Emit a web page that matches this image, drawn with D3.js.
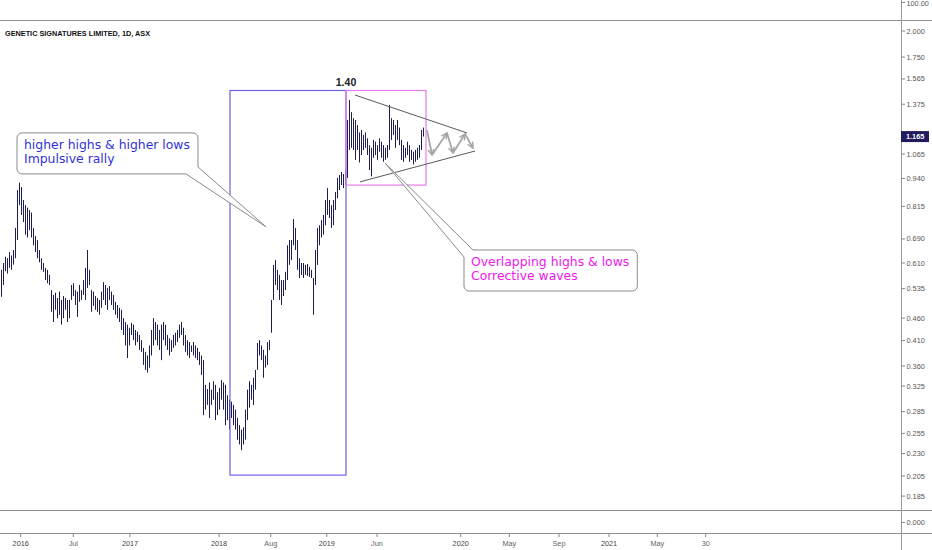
<!DOCTYPE html>
<html><head><meta charset="utf-8">
<script src="https://cdn.jsdelivr.net/npm/d3@7"></script>
<style>html,body{margin:0;padding:0;background:#fff;}svg{display:block}</style>
</head><body><svg id="c" width="932" height="550"></svg>
<script>
const title = "GENETIC SIGNATURES LIMITED, 1D, ASX";
const barHigh = [
0.589,0.61,0.63,0.625,0.645,0.634,0.652,0.73,0.886,0.92,
0.90,0.842,0.82,0.81,0.80,0.79,0.73,0.70,0.686,0.652,
0.625,0.61,0.595,0.589,0.574,0.531,0.518,0.524,0.51,0.527,
0.505,0.515,0.51,0.505,0.505,0.545,0.55,0.531,0.527,0.545,
0.531,0.559,0.595,0.652,0.589,0.531,0.527,0.515,0.51,0.505,
0.527,0.553,0.545,0.537,0.542,0.527,0.518,0.50,0.492,0.485,
0.48,0.46,0.451,0.445,0.438,0.449,0.445,0.433,0.429,0.422,
0.411,0.395,0.387,0.38,0.40,0.433,0.46,0.451,0.445,0.433,
0.445,0.451,0.445,0.422,0.415,0.411,0.422,0.427,0.433,0.445,
0.451,0.438,0.422,0.411,0.407,0.40,0.407,0.40,0.395,0.387,
0.38,0.371,0.327,0.32,0.331,0.319,0.333,0.327,0.315,0.322,
0.335,0.331,0.327,0.31,0.303,0.30,0.295,0.288,0.276,0.266,
0.26,0.263,0.288,0.319,0.333,0.327,0.339,0.353,0.405,0.411,
0.40,0.391,0.38,0.407,0.411,0.505,0.604,0.619,0.589,0.574,
0.559,0.559,0.583,0.668,0.686,0.686,0.764,0.73,0.686,0.625,
0.61,0.61,0.604,0.607,0.598,0.589,0.565,0.652,0.73,0.74,
0.76,0.78,0.842,0.895,0.842,0.82,0.842,0.877,0.943,0.957,
0.972,0.962,0.982,1.268,1.405,1.32,1.28,1.268,1.236,1.19,
1.205,1.175,1.19,1.155,1.115,1.10,1.145,1.135,1.115,1.155,
1.135,1.115,1.10,1.115,1.37,1.28,1.268,1.236,1.268,1.22,
1.145,1.115,1.10,1.135,1.115,1.088,1.078,1.088,1.10,1.115,
1.205,1.22];
const barLow = [
0.513,0.545,0.585,0.578,0.595,0.589,0.605,0.625,0.686,0.82,
0.78,0.752,0.705,0.695,0.722,0.695,0.668,0.645,0.625,0.612,
0.589,0.583,0.559,0.55,0.545,0.475,0.451,0.48,0.46,0.468,
0.445,0.46,0.48,0.451,0.46,0.505,0.515,0.492,0.463,0.50,
0.505,0.518,0.505,0.537,0.545,0.475,0.49,0.48,0.475,0.468,
0.485,0.505,0.492,0.48,0.505,0.492,0.48,0.468,0.46,0.451,
0.433,0.422,0.40,0.375,0.40,0.422,0.411,0.40,0.407,0.391,
0.387,0.362,0.353,0.348,0.357,0.38,0.40,0.411,0.40,0.391,
0.371,0.411,0.40,0.391,0.38,0.387,0.395,0.40,0.407,0.416,
0.422,0.40,0.387,0.38,0.375,0.387,0.38,0.375,0.371,0.362,
0.344,0.28,0.288,0.295,0.276,0.295,0.303,0.273,0.28,0.288,
0.303,0.288,0.266,0.273,0.26,0.276,0.266,0.26,0.247,0.241,
0.234,0.241,0.247,0.273,0.291,0.303,0.295,0.319,0.353,0.38,
0.371,0.339,0.357,0.362,0.391,0.427,0.505,0.545,0.531,0.505,
0.492,0.515,0.531,0.559,0.604,0.619,0.668,0.652,0.589,0.565,
0.574,0.565,0.574,0.571,0.568,0.565,0.468,0.545,0.604,0.668,
0.695,0.705,0.74,0.78,0.768,0.73,0.74,0.80,0.85,0.886,
0.909,0.895,0.909,0.943,1.088,1.10,1.088,1.034,1.088,1.02,
1.06,1.088,1.10,1.06,0.982,0.95,1.045,1.06,1.034,1.078,
1.045,1.024,1.034,1.045,1.088,1.145,1.175,1.10,1.145,1.115,
1.034,1.024,1.045,1.06,1.024,1.034,1.01,1.024,1.034,1.045,
1.088,1.165];
const lastPrice = 1.165;
const peakLabel = "1.40";
const peakPrice = 1.40;
const yTickValues = [2.000,1.750,1.565,1.375,1.065,0.940,0.815,0.690,0.610,0.535,0.460,0.410,0.360,0.325,0.285,0.255,0.230,0.205,0.185];
const xTickIndex = [9.85,36.15,64.5,109,134.9,162.9,188,229.85,254.15,279,304,328.15,352.35];
const xTickLabels = ["2016","Jul","2017","2018","Aug","2019","Jun","2020","May","Sep","2021","May","30"];
const impulseBox = [114.5, 172.5, 1.475, 0.206];
const correctionBox = [172.5, 212.5, 1.475, 0.909];
const upperTrend = [[177,1.441],[233,1.187]];
const lowerTrend = [[179.5,0.924],[237,1.082]];
const zigzag = [[213,1.205],[215.5,1.060],[223,1.187],[226,1.071],[232,1.181],[236,1.099]];
const callout1Lines = ["higher highs & higher lows","Impulsive rally"];
const callout2Lines = ["Overlapping highs & lows","Corrective waves"];

const svg = d3.select("#c");
const W = 932, H = 550, axisX = 901;
const xS = d3.scaleLinear().domain([0,450]).range([1,axisX]);
const yS = d3.scaleLog().domain([2.1158,0.1723]).range([20,510]);

svg.append("rect").attr("width",W).attr("height",H).attr("fill","#fff");

// pane separators
const gridC = "#8e8e8e";
[20.5,510.5,533.5].forEach(y=>svg.append("line").attr("x1",0).attr("x2",W).attr("y1",y).attr("y2",y).attr("stroke",gridC).attr("stroke-width",1.2));
svg.append("line").attr("x1",axisX+0.5).attr("x2",axisX+0.5).attr("y1",0).attr("y2",H).attr("stroke","#9a9a9a").attr("stroke-width",1);

const axFont = "'Liberation Sans', Arial, sans-serif";
// y ticks
const yAx = svg.append("g");
yTickValues.forEach(v=>{
  const y = yS(v);
  yAx.append("line").attr("x1",axisX).attr("x2",axisX+4).attr("y1",y).attr("y2",y).attr("stroke","#888");
  yAx.append("text").attr("x",axisX+5.5).attr("y",y).attr("dy","0.35em").attr("font-family",axFont).attr("font-size",7.3).attr("fill","#555").text(d3.format(".3f")(v));
});
// top pane label & lower pane label
yAx.append("line").attr("x1",axisX).attr("x2",axisX+4).attr("y1",2.5).attr("y2",2.5).attr("stroke","#888");
yAx.append("text").attr("x",axisX+5.5).attr("y",6).attr("font-family",axFont).attr("font-size",7.3).attr("fill","#555").text("100.00");
yAx.append("line").attr("x1",axisX).attr("x2",axisX+4).attr("y1",522.5).attr("y2",522.5).attr("stroke","#888");
yAx.append("text").attr("x",axisX+5.5).attr("y",522.5).attr("dy","0.35em").attr("font-family",axFont).attr("font-size",7.3).attr("fill","#555").text("0.000");

// x ticks
xTickIndex.forEach((t,i)=>{
  const x = xS(t);
  const isYear = /^\d{4}$/.test(xTickLabels[i]);
  svg.append("line").attr("x1",x).attr("x2",x).attr("y1",533.5).attr("y2",537).attr("stroke","#888");
  svg.append("text").attr("x",x).attr("y",546).attr("text-anchor","middle").attr("font-family",axFont).attr("font-size",7.3).attr("fill",isYear?"#444":"#666").text(xTickLabels[i]);
});

// bars (crisp 1px high-low lines)
svg.append("g").selectAll("line").data(barHigh).join("line")
  .attr("x1",(d,i)=>xS(i)+0.5).attr("x2",(d,i)=>xS(i)+0.5)
  .attr("y1",d=>yS(d)).attr("y2",(d,i)=>yS(barLow[i]))
  .attr("stroke","#1e1d52").attr("stroke-width",1);

// rectangles
function box(b,color){
  svg.append("rect").attr("x",xS(b[0])).attr("y",yS(b[2])).attr("width",xS(b[1])-xS(b[0])).attr("height",yS(b[3])-yS(b[2]))
    .attr("fill","none").attr("stroke",color).attr("stroke-width",1.2);
}
box(impulseBox,"#6c62e2");
box(correctionBox,"#e47ee8");

// peak label
svg.append("text").attr("x",xS(impulseBox[1])).attr("y",yS(peakPrice)-15).attr("text-anchor","middle")
  .attr("font-family",axFont).attr("font-weight","bold").attr("font-size",10.5).attr("fill","#222").text(peakLabel);

// trend lines
[upperTrend,lowerTrend].forEach(l=>svg.append("line").attr("x1",xS(l[0][0])).attr("y1",yS(l[0][1])).attr("x2",xS(l[1][0])).attr("y2",yS(l[1][1])).attr("stroke","#5a5a5a").attr("stroke-width",1));

// zigzag arrows
svg.append("defs").append("marker").attr("id","ah").attr("viewBox","0 0 10 10").attr("refX",9).attr("refY",5)
  .attr("markerWidth",4).attr("markerHeight",4).attr("orient","auto")
  .append("path").attr("d","M1,1 L9,5 L1,9").attr("fill","none").attr("stroke","#a6a6a6").attr("stroke-width",2);
for(let k=0;k<zigzag.length-1;k++){
  svg.append("line").attr("x1",xS(zigzag[k][0])).attr("y1",yS(zigzag[k][1])).attr("x2",xS(zigzag[k+1][0])).attr("y2",yS(zigzag[k+1][1]))
    .attr("stroke","#a6a6a6").attr("stroke-width",1.8).attr("marker-end","url(#ah)");
}

// callouts
const cFont = "'DejaVu Sans', Verdana, sans-serif";
function callout(lines,color,bxIdx,bxPrice,tip,corner){
  const bx = xS(bxIdx), by = yS(bxPrice);
  const g = svg.append("g");
  const path = g.append("path");
  const texts = lines.map((t,i)=>g.append("text").attr("x",bx+7).attr("y",by+16+i*14).attr("font-family",cFont).attr("font-size",12.4).attr("fill",color).text(t));
  const tw = d3.max(texts,t=>t.node().getComputedTextLength());
  const bw = tw+15, bh = 41, r = 5;
  const tx = xS(tip[0]), ty = yS(tip[1]);
  let d;
  if(corner==="br"){
    d = `M${bx+r},${by} H${bx+bw-r} A${r},${r} 0 0 1 ${bx+bw},${by+r} V${by+bh-7} L${tx},${ty} L${bx+bw-12},${by+bh} H${bx+r} A${r},${r} 0 0 1 ${bx},${by+bh-r} V${by+r} A${r},${r} 0 0 1 ${bx+r},${by} Z`;
  } else {
    d = `M${bx+9},${by} H${bx+bw-r} A${r},${r} 0 0 1 ${bx+bw},${by+r} V${by+bh-r} A${r},${r} 0 0 1 ${bx+bw-r},${by+bh} H${bx+r} A${r},${r} 0 0 1 ${bx},${by+bh-r} V${by+7} L${tx},${ty} Z`;
  }
  path.attr("d",d).attr("fill","#fff").attr("stroke","#8a8a8a").attr("stroke-width",1);
}
callout(callout1Lines,"#3232d6",8,1.187,[132.5,0.734],"br");
callout(callout2Lines,"#ee18ee",231.5,0.652,[192,1.018],"tl");

// last price label
const ly = yS(lastPrice);
svg.append("rect").attr("x",axisX).attr("y",ly-5.5).attr("width",28).attr("height",11).attr("fill","#1f1b5e");
svg.append("text").attr("x",axisX+5).attr("y",ly).attr("dy","0.35em").attr("font-family",axFont).attr("font-size",7.3).attr("font-weight","bold").attr("fill","#fff").text(d3.format(".3f")(lastPrice));

// title
svg.append("text").attr("x",5).attr("y",35.5).attr("font-family",axFont).attr("font-weight","bold").attr("font-size",8)
  .attr("fill","#111").attr("textLength",145).attr("lengthAdjust","spacingAndGlyphs").text(title);
</script></body></html>
